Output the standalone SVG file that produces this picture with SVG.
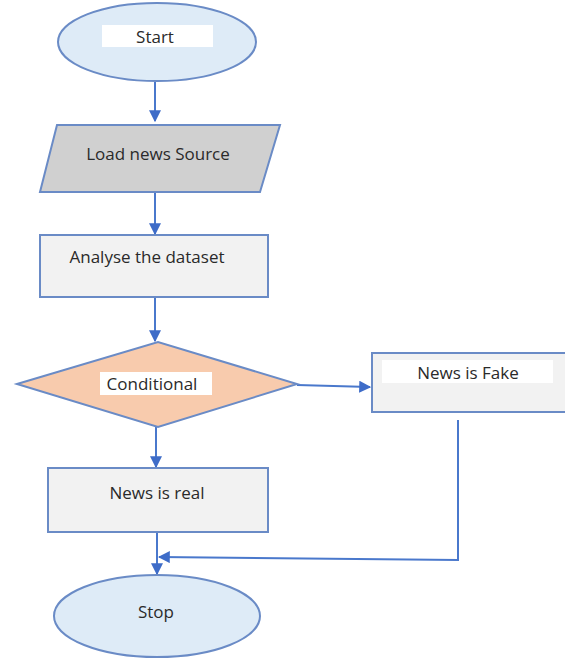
<svg xmlns="http://www.w3.org/2000/svg" width="565" height="659" viewBox="0 0 565 659">
<defs>
<style>
.t{font-family:"Open Sans","Liberation Sans",sans-serif;font-size:17px;fill:#2a2a2a;text-anchor:middle;dominant-baseline:central}
.ell{fill:#deebf7;stroke:#6a8bc6;stroke-width:2}
.box{fill:#f2f2f2;stroke:#6a8bc6;stroke-width:2}
.lbl{fill:#ffffff;stroke:none}
.c{fill:none;stroke:#4a78cc;stroke-width:2}
</style>
<marker id="ah" viewBox="0 0 10 10" refX="9" refY="5" markerWidth="6" markerHeight="6" orient="auto-start-reverse" markerUnits="strokeWidth">
<path d="M0,0 L10,5 L0,10 z" fill="#3e6cc8"/>
</marker>
</defs>
<rect width="565" height="659" fill="#ffffff"/>
<g id="connectors">
<line class="c" x1="155" y1="82" x2="155" y2="121" marker-end="url(#ah)"/>
<line class="c" x1="155" y1="192" x2="155" y2="234" marker-end="url(#ah)"/>
<line class="c" x1="155" y1="297" x2="155" y2="341" marker-end="url(#ah)"/>
<line class="c" x1="297" y1="385" x2="370" y2="387" marker-end="url(#ah)"/>
<line class="c" x1="156" y1="427" x2="156" y2="467" marker-end="url(#ah)"/>
<line class="c" x1="157" y1="532" x2="157" y2="574" marker-end="url(#ah)"/>
<polyline class="c" points="458,420 458,560 159,557" marker-end="url(#ah)"/>
</g>
<g id="start">
<ellipse class="ell" cx="157" cy="42" rx="99" ry="39"/>
<rect class="lbl" x="102" y="25" width="111" height="22"/>
<text class="t" x="155" y="36">Start</text>
</g>
<g id="load">
<polygon points="57,125 280,125 260,192 40,192" fill="#d0d0d0" stroke="#6a8bc6" stroke-width="2"/>
<text class="t" x="158" y="153">Load news Source</text>
</g>
<g id="analyse">
<rect class="box" x="40" y="235" width="228" height="62"/>
<text class="t" x="147" y="256">Analyse the dataset</text>
</g>
<g id="conditional">
<polygon points="17,384 158,342 297,384 158,427" fill="#f8cbad" stroke="#6a8bc6" stroke-width="2"/>
<rect class="lbl" x="100" y="372" width="112" height="23"/>
<text class="t" x="152" y="383">Conditional</text>
</g>
<g id="fake">
<rect class="box" x="372" y="353" width="200" height="59"/>
<rect class="lbl" x="382" y="360" width="171" height="23"/>
<text class="t" x="468" y="372">News is Fake</text>
</g>
<g id="real">
<rect class="box" x="48" y="468" width="220" height="64"/>
<text class="t" x="157" y="492">News is real</text>
</g>
<g id="stop">
<ellipse class="ell" cx="157" cy="616" rx="103" ry="41"/>
<text class="t" x="156" y="611">Stop</text>
</g>
</svg>
